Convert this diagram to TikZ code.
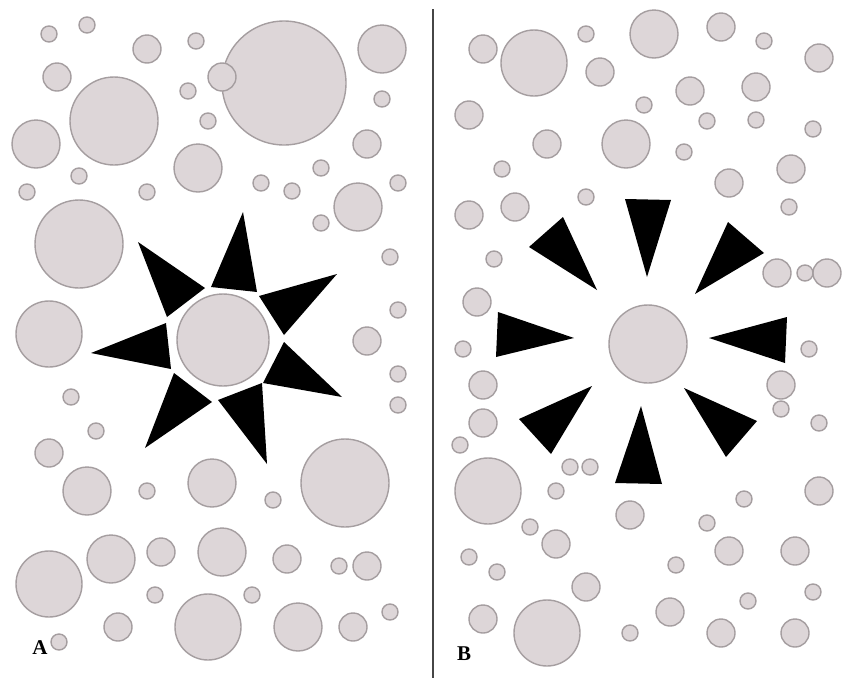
\documentclass[tikz,border=0pt]{standalone}
\usepackage{fontspec}
\setmainfont{Liberation Serif}
\definecolor{cfill}{RGB}{221,214,216}
\definecolor{cline}{RGB}{165,158,160}
\definecolor{divider}{RGB}{70,70,70}
\tikzset{
  bub/.style={fill=cfill,draw=cline,line width=1.4pt},
  spike/.style={fill=black,draw=none},
  panellabel/.style={font=\fontsize{21}{24}\selectfont\bfseries,inner sep=0pt}
}
\begin{document}
\begin{tikzpicture}[x=1pt,y=-1pt]
\useasboundingbox (0,0) rectangle (846,678);
\fill[white] (0,0) rectangle (846,678);
% divider
\draw[divider,line width=1.2pt] (433,9) -- (433,678);
% Panel A circles
\foreach \x/\y/\r in {
49/34/8, 87/25/8, 147/49/14, 196/41/8, 284/83/62, 222/77/14, 382/49/24,
57/77/14, 114/121/44, 188/91/8, 208/121/8, 382/99/8, 36/144/24, 367/144/14,
198/168/24, 79/176/8, 27/192/8, 147/192/8, 321/168/8, 261/183/8, 292/191/8,
398/183/8, 358/207/24, 321/223/8, 79/244/44, 390/257/8, 398/310/8,
49/334/33, 367/341/14, 223/340/46,
71/397/8, 96/431/8, 49/453/14, 398/374/8, 398/405/8, 87/491/24, 147/491/8,
212/483/24, 273/500/8, 345/483/44, 49/584/33, 111/559/24, 161/552/14,
222/552/24, 287/559/14, 339/566/8, 367/566/14, 155/595/8, 252/595/8,
208/627/33, 118/627/14, 298/627/24, 353/627/14, 390/612/8, 59/642/8}
  \draw[bub] (\x,\y) circle[radius=\r pt];
% Panel A spikes
\fill[spike] (138,242) -- (205,288) -- (167,317) -- cycle;
\fill[spike] (243,212) -- (211,287) -- (257,292) -- cycle;
\fill[spike] (337,274) -- (259,296) -- (284,335) -- cycle;
\fill[spike] (91,353) -- (166,323) -- (171,369) -- cycle;
\fill[spike] (284,342) -- (342,397) -- (263,383) -- cycle;
\fill[spike] (174,373) -- (212,402) -- (145,448) -- cycle;
\fill[spike] (218,400) -- (262,383) -- (267,464) -- cycle;
% Panel B circles
\foreach \x/\y/\r in {
483/49/14, 534/63/33, 586/34/8, 654/34/24, 721/27/14, 764/41/8, 819/58/14,
600/72/14, 690/91/14, 756/87/14, 469/115/14, 644/105/8, 707/121/8, 756/120/8,
813/129/8, 547/144/14, 626/144/24, 684/152/8, 502/169/8, 729/183/14,
791/169/14, 586/197/8, 469/215/14, 515/207/14, 789/207/8, 494/259/8,
777/273/14, 805/273/8, 827/273/14, 477/302/14, 648/344/39,
463/349/8, 809/349/8, 483/385/14, 781/385/14, 781/409/8, 483/423/14,
819/423/8, 460/445/8, 488/491/33, 570/467/8, 590/467/8, 556/491/8,
819/491/14, 630/515/14, 744/499/8, 707/523/8, 530/527/8, 556/544/14,
729/551/14, 795/551/14, 469/557/8, 497/572/8, 676/565/8, 586/587/14,
813/592/8, 748/601/8, 483/619/14, 547/633/33, 670/612/14, 630/633/8,
721/633/14, 795/633/14}
  \draw[bub] (\x,\y) circle[radius=\r pt];
% Panel B spikes
\fill[spike] (625,199) -- (671,200) -- (647,277) -- cycle;
\fill[spike] (529,247) -- (563,217) -- (597,290) -- cycle;
\fill[spike] (728,222) -- (764,253) -- (695,294) -- cycle;
\fill[spike] (498,312) -- (496,357) -- (574,338) -- cycle;
\fill[spike] (787,317) -- (785,363) -- (709,338) -- cycle;
\fill[spike] (519,419) -- (592,386) -- (551,454) -- cycle;
\fill[spike] (641,406) -- (615,483) -- (662,484) -- cycle;
\fill[spike] (684,388) -- (757,421) -- (726,457) -- cycle;
% labels
\node[panellabel] (labA) at (40,648) {A};
\node[panellabel] (labB) at (464,654) {B};
\end{tikzpicture}
\end{document}
